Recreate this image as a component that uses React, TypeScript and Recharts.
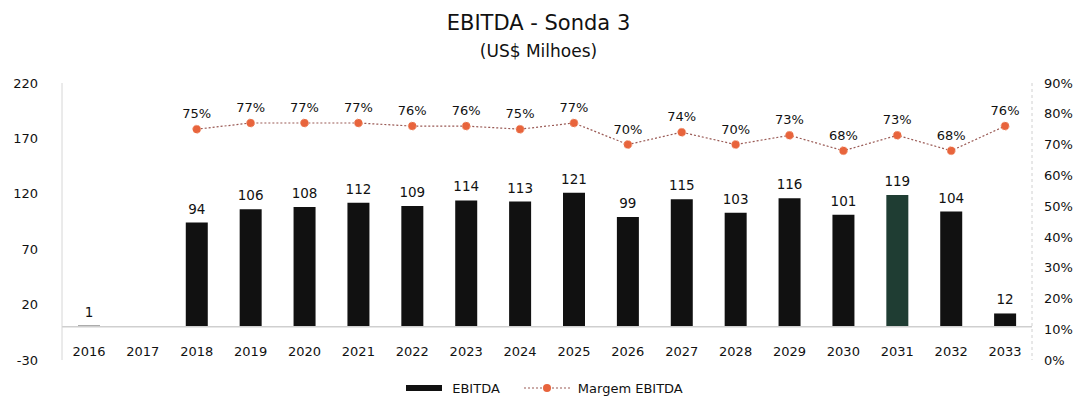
import React from "react";
import {
  ComposedChart,
  Bar,
  Line,
  XAxis,
  YAxis,
  LabelList,
  ReferenceLine,
  Legend,
  Cell,
} from "recharts";

const years = ["2016","2017","2018","2019","2020","2021","2022","2023","2024","2025","2026","2027","2028","2029","2030","2031","2032","2033"];
const ebitda: (number | null)[] = [1, null, 94, 106, 108, 112, 109, 114, 113, 121, 99, 115, 103, 116, 101, 119, 104, 12];
const margem: (number | null)[] = [null, null, 0.75, 0.77, 0.77, 0.77, 0.76, 0.76, 0.75, 0.77, 0.70, 0.74, 0.70, 0.73, 0.68, 0.73, 0.68, 0.76];
const leftTicks = [-30, 20, 70, 120, 170, 220];
const rightTicks = [0, 0.1, 0.2, 0.3, 0.4, 0.5, 0.6, 0.7, 0.8, 0.9];

const data = years.map((y, i) => ({ year: y, ebitda: ebitda[i], margem: margem[i] }));

const FONT = "'DejaVu Sans', Verdana, sans-serif";

const XTick = (props: any) => {
  const { x, y, payload } = props;
  return (
    <text x={x} y={y - 12} textAnchor="middle" fontFamily={FONT} fontSize={13} fill="#111">
      {payload.value}
    </text>
  );
};

const pct = (v: any) => (v == null ? "" : `${Math.round(v * 100)}%`);

const LegendContent = () => (
  <div style={{ display: "flex", justifyContent: "center", alignItems: "center", fontFamily: FONT, fontSize: 13, color: "#111", height: 20, paddingLeft: 0 }}>
    <svg width={36} height={10} style={{ marginRight: 10 }}>
      <rect x={0} y={2} width={36} height={6} fill="#111" />
    </svg>
    <span style={{ marginRight: 24 }}>EBITDA</span>
    <svg width={46} height={12} style={{ marginRight: 8 }}>
      <line x1={0} y1={6} x2={46} y2={6} stroke="#9a5a55" strokeDasharray="2 2" strokeWidth={1.2} />
      <circle cx={23} cy={6} r={4} fill="#e8643c" />
    </svg>
    <span>Margem EBITDA</span>
  </div>
);

export default function App() {
  return (
    <div style={{ position: "absolute", left: 0, top: 0, width: 1077, height: 408, background: "#fff" }}>
      <div style={{ position: "absolute", top: 10, left: 0, width: 1077, textAlign: "center", fontFamily: FONT, fontSize: 21, color: "#111", lineHeight: "26px" }}>
        EBITDA - Sonda 3
      </div>
      <div style={{ position: "absolute", top: 40, left: 0, width: 1077, textAlign: "center", fontFamily: FONT, fontSize: 17, color: "#111", lineHeight: "22px" }}>
        (US$ Milhoes)
      </div>
      <ComposedChart
        width={1077}
        height={408}
        data={data}
        margin={{ top: 83, right: 0, bottom: 10, left: 12 }}
        barSize={22}
      >
        <XAxis
          dataKey="year"
          xAxisId={0}
          axisLine={false}
          tickLine={false}
          height={18}
          tick={<XTick />}
          interval={0}
        />
        <YAxis
          yAxisId="left"
          orientation="left"
          domain={[-30, 220]}
          ticks={leftTicks}
          width={50}
          axisLine={{ stroke: "#d6d6d6" }}
          tickLine={false}
          tickMargin={18}
          tick={{ fontFamily: FONT, fontSize: 13, fill: "#111" }}
          allowDataOverflow
        />
        <YAxis
          yAxisId="right"
          orientation="right"
          domain={[0, 0.9]}
          ticks={rightTicks}
          width={45}
          axisLine={{ stroke: "#d0d0d0", strokeDasharray: "3 3" }}
          tickLine={false}
          tickMargin={6}
          tickFormatter={pct}
          tick={{ fontFamily: FONT, fontSize: 13, fill: "#111" }}
        />
        <ReferenceLine yAxisId="left" y={0} stroke="#cfcfcf" strokeWidth={1.5} />
        <Bar yAxisId="left" dataKey="ebitda" fill="#111111" isAnimationActive={false}>
          {data.map((d, i) => (
            <Cell key={i} fill={d.year === "2031" ? "#1f3d33" : "#111111"} />
          ))}
          <LabelList dataKey="ebitda" position="top" offset={9} style={{ fontFamily: FONT, fontSize: 13.5, fill: "#111" }} />
        </Bar>
        <Line
          yAxisId="right"
          dataKey="margem"
          stroke="#9a5a55"
          strokeDasharray="2 2"
          strokeWidth={1.2}
          dot={{ r: 4, fill: "#e8643c", stroke: "#f2a080", strokeWidth: 1 }}
          activeDot={false}
          isAnimationActive={false}
          connectNulls={false}
        >
          <LabelList dataKey="margem" position="top" offset={11} formatter={pct} style={{ fontFamily: FONT, fontSize: 13, fill: "#111" }} />
        </Line>
        <Legend verticalAlign="bottom" height={20} content={<LegendContent />} />
      </ComposedChart>
    </div>
  );
}
